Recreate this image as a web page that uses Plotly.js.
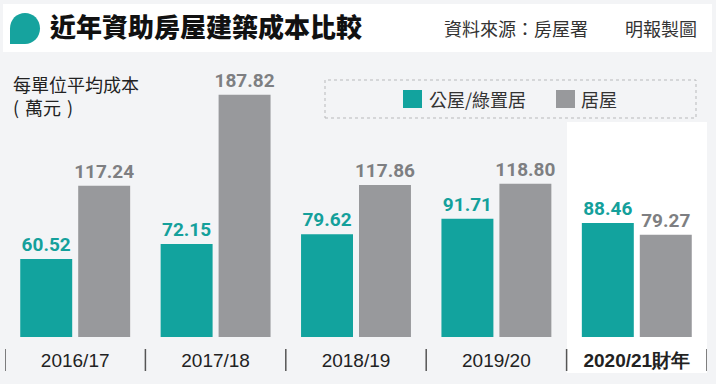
<!DOCTYPE html>
<html>
<head>
<meta charset="utf-8">
<script src="https://cdn.plot.ly/plotly-3.0.1.min.js"></script>
<style>html,body{margin:0;padding:0;background:#f3f4f6;}#chart{width:716px;height:384px;}</style>
</head>
<body>
<div id="chart"></div>
<script>
const categories = ['2016/17', '2017/18', '2018/19', '2019/20', '2020/21'];
const tickLabels = ['2016/17', '2017/18', '2018/19', '2019/20', '<b>2020/21財年</b>'];
const seriesNames = ['公屋/綠置居', '居屋'];
const publicHousing = [60.52, 72.15, 79.62, 91.71, 88.46];
const hosHousing = [117.24, 187.82, 117.86, 118.80, 79.27];
const chartTitle = '近年資助房屋建築成本比較';
const sourceText = '資料來源：房屋署';
const creditText = '明報製圖';
const yTitle = '每單位平均成本<br>(\u2004萬元\u2004)';

const W = 716, H = 384;
const M = {l: 5, r: 9, t: 79, b: 47};
const PW = W - M.l - M.r, PH = H - M.t - M.b;
const px = x => (x - M.l) / PW;
const py = y => (H - M.b - y) / PH;

const TEAL = '#12a39e', GREY = '#98999c';
const CJK = '"Noto Sans CJK TC", "Noto Sans", sans-serif';

const traces = [
  {type: 'bar', name: seriesNames[0], x: categories, y: publicHousing,
   marker: {color: TEAL}, text: publicHousing.map(v => v.toFixed(2)),
   textposition: 'outside', cliponaxis: false, constraintext: 'none',
   textfont: {family: 'Roboto, sans-serif', size: 19, color: '#14a09b', weight: 'bold'},
   hoverinfo: 'none', showlegend: false},
  {type: 'bar', name: seriesNames[1], x: categories, y: hosHousing,
   marker: {color: GREY}, text: hosHousing.map(v => v.toFixed(2)),
   textposition: 'outside', cliponaxis: false, constraintext: 'none',
   textfont: {family: 'Roboto, sans-serif', size: 19, color: '#7e7f82', weight: 'bold'},
   hoverinfo: 'none', showlegend: false}
];

function pt(x, y) { return px(x).toFixed(5) + ',' + py(y).toFixed(5); }
const iconPath = 'M' + pt(10, 44) + ' L' + pt(10, 28.5) +
  ' C' + pt(10, 19.5) + ' ' + pt(16.7, 13) + ' ' + pt(25, 13) +
  ' C' + pt(33.3, 13) + ' ' + pt(40, 19.5) + ' ' + pt(40, 28.5) +
  ' C' + pt(40, 37) + ' ' + pt(33.3, 44) + ' ' + pt(25, 44) + ' Z';

const shapes = [
  {type: 'rect', xref: 'paper', yref: 'paper', x0: px(3), x1: px(712), y0: py(52), y1: py(4),
   fillcolor: '#ffffff', line: {width: 0}, layer: 'below'},
  {type: 'rect', xref: 'paper', yref: 'paper', x0: px(567), x1: px(707), y0: py(373), y1: py(122),
   fillcolor: '#ffffff', line: {width: 0}, layer: 'below'},
  {type: 'rect', xref: 'paper', yref: 'paper', x0: px(325), x1: px(696), y0: py(118), y1: py(80),
   fillcolor: 'rgba(0,0,0,0)', line: {width: 1, color: '#b8b9bb', dash: 'dot'}},
  {type: 'rect', xref: 'paper', yref: 'paper', x0: px(403), x1: px(422), y0: py(108), y1: py(90),
   fillcolor: TEAL, line: {width: 0}},
  {type: 'rect', xref: 'paper', yref: 'paper', x0: px(556), x1: px(575), y0: py(108), y1: py(90),
   fillcolor: GREY, line: {width: 0}},
  {type: 'path', xref: 'paper', yref: 'paper', path: iconPath, fillcolor: '#16a39e', line: {width: 0}}
];
for (let i = 0; i <= categories.length; i++) {
  shapes.push({type: 'line', xref: 'x', yref: 'paper', x0: i - 0.5, x1: i - 0.5,
    y0: py(349), y1: py(371), line: {color: '#555555', width: 1.5}});
}

const annotations = [
  {xref: 'paper', yref: 'paper', x: px(442), y: py(28), xanchor: 'left', yanchor: 'middle',
   text: sourceText, showarrow: false, font: {family: CJK, size: 18, color: '#333333'}},
  {xref: 'paper', yref: 'paper', x: px(623), y: py(28), xanchor: 'left', yanchor: 'middle',
   text: creditText, showarrow: false, font: {family: CJK, size: 18, color: '#333333'}},
  {xref: 'paper', yref: 'paper', x: px(11), y: py(95), xanchor: 'left', yanchor: 'middle', align: 'left',
   text: yTitle, showarrow: false, font: {family: CJK, size: 18, color: '#222222'}},
  {xref: 'paper', yref: 'paper', x: px(427), y: py(99), xanchor: 'left', yanchor: 'middle',
   text: seriesNames[0], showarrow: false, font: {family: CJK, size: 18, color: '#333333'}},
  {xref: 'paper', yref: 'paper', x: px(579), y: py(99), xanchor: 'left', yanchor: 'middle',
   text: seriesNames[1], showarrow: false, font: {family: CJK, size: 18, color: '#333333'}}
];

const layout = {
  width: W, height: H, margin: M,
  paper_bgcolor: '#f3f4f6', plot_bgcolor: 'rgba(0,0,0,0)',
  title: {text: chartTitle, xref: 'container', yref: 'container', x: 50 / W, y: 1 - 28 / H,
          xanchor: 'left', yanchor: 'middle',
          font: {family: CJK, size: 26, color: '#111111', weight: 900}},
  barmode: 'group', bargap: 0.1744, bargroupgap: 0.1034,
  xaxis: {type: 'category', range: [-0.5, 4.5], tickvals: categories, ticktext: tickLabels,
          showline: false, showgrid: false, zeroline: false, ticks: '', ticklabelstandoff: 10,
          tickfont: {family: '"Liberation Sans", Arial, sans-serif', size: 19, color: '#222222'}},
  yaxis: {range: [0, 200], visible: false, showgrid: false, zeroline: false},
  shapes: shapes, annotations: annotations, showlegend: false
};

Plotly.newPlot('chart', traces, layout, {displayModeBar: false, staticPlot: true});
</script>
</body>
</html>
